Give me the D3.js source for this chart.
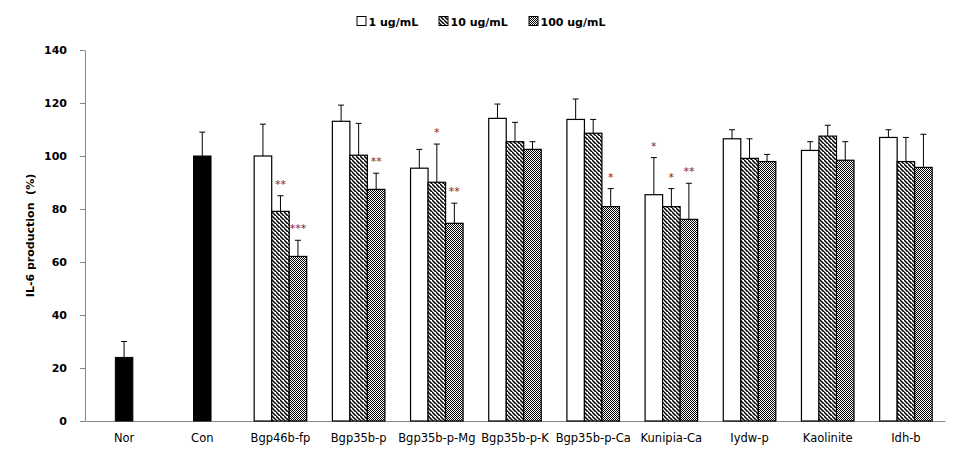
<!DOCTYPE html>
<html>
<head>
<meta charset="utf-8">
<script src="https://cdn.jsdelivr.net/npm/d3@7"></script>
<style>
  html, body { margin: 0; padding: 0; background: #fff; }
  svg { display: block; }
  text { font-family: "DejaVu Sans", sans-serif; }
</style>
</head>
<body>
<svg id="chart" width="960" height="453"></svg>
<script>
// ---------- data ----------
const categories = ["Nor", "Con", "Bgp46b-fp", "Bgp35b-p", "Bgp35b-p-Mg", "Bgp35b-p-K",
  "Bgp35b-p-Ca", "Kunipia-Ca", "Iydw-p", "Kaolinite", "Idh-b"];
const controlCategories = ["Nor", "Con"];
const controlValues = [24, 100];
const controlErrors = [6, 9];
const treatCategories = ["Bgp46b-fp", "Bgp35b-p", "Bgp35b-p-Mg", "Bgp35b-p-K",
  "Bgp35b-p-Ca", "Kunipia-Ca", "Iydw-p", "Kaolinite", "Idh-b"];
const seriesNames = ["1 ug/mL", "10 ug/mL", "100 ug/mL"];
const values1   = [100, 113.1, 95.4, 114.2, 113.8, 85.4, 106.5, 102.1, 107.0];
const errors1   = [12, 6.1, 7.1, 5.4, 7.7, 14, 3.4, 3.3, 2.9];
const values10  = [79.1, 100.3, 90.1, 105.4, 108.6, 80.9, 99.1, 107.5, 97.9];
const errors10  = [5.9, 12, 14.4, 7.3, 5.2, 6.8, 7.4, 4.1, 9.1];
const values100 = [62.1, 87.4, 74.6, 102.5, 80.9, 76.1, 97.9, 98.4, 95.7];
const errors100 = [6.1, 6.1, 7.6, 2.9, 6.8, 13.6, 2.7, 7.0, 12.5];
const stars1    = ["", "", "", "", "", "*", "", "", ""];
const stars10   = ["**", "", "*", "", "", "*", "", "", ""];
const stars100  = ["***", "**", "**", "", "*", "**", "", "", ""];
const yTicks = [0, 20, 40, 60, 80, 100, 120, 140];
const yLabel = "IL-6 production  (%)";

// ---------- layout ----------
const svg = d3.select("#chart");
const mLeft = 85, mRight = 945, mTop = 50, mBottom = 421;
const x = d3.scaleBand().domain(categories).range([mLeft, mRight]).padding(0);
const y = d3.scaleLinear().domain([0, 140]).range([mBottom, mTop]);
const barW = x.bandwidth() * 0.224;

// patterns
const defs = svg.append("defs");
const hatch = defs.append("pattern").attr("id", "hatch")
  .attr("patternUnits", "userSpaceOnUse").attr("width", 4).attr("height", 4);
hatch.append("rect").attr("width", 4).attr("height", 4).attr("fill", "#fff");
hatch.append("path")
  .attr("d", "M-1,-1 L5,5 M-3,1 L1,5 M3,-3 L7,1")
  .attr("stroke", "#000").attr("stroke-width", 1.5);
const dots = defs.append("pattern").attr("id", "dots")
  .attr("patternUnits", "userSpaceOnUse").attr("width", 2).attr("height", 2);
dots.append("rect").attr("width", 2).attr("height", 2).attr("fill", "#fff");
dots.append("rect").attr("x", 0).attr("y", 0).attr("width", 1).attr("height", 1).attr("fill", "#000");
dots.append("rect").attr("x", 1).attr("y", 1).attr("width", 1).attr("height", 1).attr("fill", "#000");
const fills = ["#fff", "url(#hatch)", "url(#dots)"];

// axes
const yAxis = svg.append("g").attr("transform", `translate(${mLeft},0)`)
  .call(d3.axisLeft(y).tickValues(yTicks).tickSize(5).tickSizeOuter(0).tickPadding(13));
yAxis.select(".domain").attr("stroke", "#868686");
yAxis.selectAll(".tick line").attr("stroke", "#868686");
yAxis.selectAll("text").attr("font-size", 11).attr("font-weight", "bold")
  .attr("font-family", "DejaVu Sans").attr("fill", "#000");

const xAxis = svg.append("g").attr("transform", `translate(0,${mBottom})`)
  .call(d3.axisBottom(x).tickSize(0).tickSizeOuter(0).tickPadding(12.5));
xAxis.select(".domain").attr("stroke", "#868686");
xAxis.selectAll("text").attr("font-size", 11.5)
  .attr("font-family", "DejaVu Sans").attr("fill", "#000");

// y label
svg.append("text")
  .attr("transform", `translate(34,${(mTop + mBottom) / 2}) rotate(-90)`)
  .attr("text-anchor", "middle").attr("font-size", 11).attr("font-weight", "bold")
  .style("white-space", "pre")
  .text(yLabel);

// helper for error bars
function errBar(g, cx, v, e) {
  const yt = y(v + e), yb = y(v);
  g.append("line").attr("x1", cx).attr("x2", cx).attr("y1", yb).attr("y2", yt)
    .attr("stroke", "#000").attr("stroke-width", 1);
  g.append("line").attr("x1", cx - 3).attr("x2", cx + 3).attr("y1", yt).attr("y2", yt)
    .attr("stroke", "#000").attr("stroke-width", 1);
}

// control bars
const gCtrl = svg.append("g");
controlCategories.forEach((c, i) => {
  const cx = x(c) + x.bandwidth() / 2;
  gCtrl.append("rect")
    .attr("x", cx - barW / 2).attr("y", y(controlValues[i]))
    .attr("width", barW).attr("height", y(0) - y(controlValues[i]))
    .attr("fill", "#000").attr("stroke", "#000");
  errBar(gCtrl, cx, controlValues[i], controlErrors[i]);
});

// treatment bars
const seriesVals = [values1, values10, values100];
const seriesErrs = [errors1, errors10, errors100];
const seriesStars = [stars1, stars10, stars100];
const gT = svg.append("g");
treatCategories.forEach((c, i) => {
  const center = x(c) + x.bandwidth() / 2;
  seriesVals.forEach((vals, s) => {
    const cx = center + (s - 1) * barW;
    gT.append("rect")
      .attr("x", cx - barW / 2).attr("y", y(vals[i]))
      .attr("width", barW).attr("height", y(0) - y(vals[i]))
      .attr("fill", fills[s]).attr("stroke", "#000").attr("stroke-width", 1.2);
  });
  seriesVals.forEach((vals, s) => {
    const cx = center + (s - 1) * barW;
    errBar(gT, cx, vals[i], seriesErrs[s][i]);
    const st = seriesStars[s][i];
    if (st) {
      gT.append("text").attr("x", cx).attr("y", y(vals[i] + seriesErrs[s][i]) - 8)
        .attr("text-anchor", "middle").attr("font-size", 11)
        .attr("fill", "#8b1a2a").text(st);
    }
  });
});

// legend
const legendX = [357, 439, 529];
const lg = svg.append("g");
seriesNames.forEach((n, s) => {
  lg.append("rect").attr("x", legendX[s]).attr("y", 16.5).attr("width", 9).attr("height", 9)
    .attr("fill", fills[s]).attr("stroke", "#000").attr("stroke-width", 1);
  lg.append("text").attr("x", legendX[s] + 11.5).attr("y", 25.5)
    .attr("font-size", 11).attr("font-weight", "bold").text(n);
});
</script>
</body>
</html>
